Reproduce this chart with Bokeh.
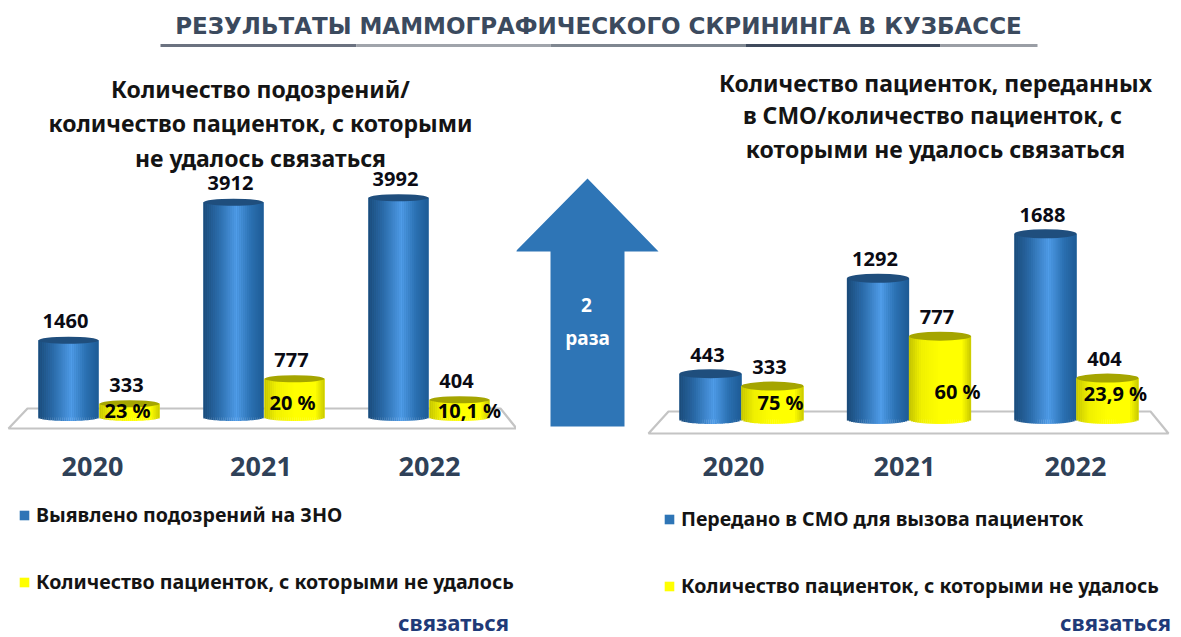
from math import sqrt
from bokeh.plotting import figure
from bokeh.layouts import column, row
from bokeh.models import Range1d, LinearAxis, FixedTicker, Legend, LegendItem, ColumnDataSource, NumeralTickFormatter
from bokeh.core.properties import value
from bokeh.embed import file_html
from bokeh.resources import INLINE

main_title = "РЕЗУЛЬТАТЫ  МАММОГРАФИЧЕСКОГО  СКРИНИНГА  В КУЗБАССЕ"
years = [2020, 2021, 2022]

left_title = ["Количество подозрений/", "количество пациенток, с которыми", "не удалось связаться"]
left_blue = [1460, 3912, 3992]
left_yellow = [333, 777, 404]
left_pct = ["23 %", "20 %", "10,1 %"]
left_legend = ["Выявлено подозрений на ЗНО", "Количество пациенток, с которыми не удалось"]

right_title = ["Количество пациенток, переданных", "в СМО/количество  пациенток, с", "которыми не удалось связаться"]
right_blue = [443, 1292, 1688]
right_yellow = [333, 777, 404]
right_pct = ["75 %", "60 %", "23,9 %"]
right_legend = ["Передано в СМО для вызова пациенток", "Количество пациенток, с которыми не удалось"]
legend_tail = "связаться"
arrow_text = ["2", "раза"]

FONT = value("Noto Sans")
BLUE_STOPS = [(0, "#1a4a78"), (.25, "#2a6aa8"), (.55, "#4f9ce8"), (.8, "#2a6fb0"), (1, "#1d5a94")]
YEL_STOPS = [(0, "#c4c400"), (.2, "#f0f000"), (.5, "#ffff00"), (.85, "#ffff00"), (1, "#c8c800")]
BOT = 637


def mix(stops, t):
    for (a, ca), (b, cb) in zip(stops, stops[1:]):
        if t <= b:
            f = (t - a) / (b - a)
            rgb = [round(int(ca[i:i + 2], 16) * (1 - f) + int(cb[i:i + 2], 16) * f) for i in (1, 3, 5)]
            return "#%02x%02x%02x" % tuple(rgb)
    return stops[-1][1]


def cylinders(p, xs, vals, barw, scale, floor, stops, solid, cap, ell, n=30):
    """Shaded cylinders; barw in x-data units, scale = pixels per value unit."""
    base = p.vbar(x=xs, top=vals, bottom=floor, width=barw, fill_color=solid, line_color=None)
    d = dict(x=[], top=[], bottom=[], c=[])
    for x, v in zip(xs, vals):
        for i in range(n):
            t = (i + .5) / n
            u = 2 * t - 1
            d["x"].append(x - barw / 2 + t * barw)
            d["top"].append(v)
            d["bottom"].append(floor - ell / 2 * sqrt(1 - u * u) / scale)
            d["c"].append(mix(stops, t))
    p.vbar(x="x", top="top", bottom="bottom", width=barw / n * 1.15, fill_color="c", line_color=None,
           source=ColumnDataSource(d))
    p.ellipse(x=xs, y=vals, width=[barw] * len(xs), height=[ell] * len(xs), height_units="screen",
              fill_color=cap, line_color=None)
    return base


def panel(xpx, year_x0, spacing, ax_x0, ax_spacing, zero_px, scale, floor, dodge_px, bar_px, ell,
          blue, yellow, pct, pct_xy, legend_labels, legend_loc, title, title_ys, title_cx,
          plat, tail_xy):
    W = xpx[1] - xpx[0]
    top_px, bot_px = 52, BOT
    p = figure(width=W, height=bot_px - top_px, output_backend="svg", toolbar_location=None,
               x_axis_location=None, y_axis_location=None, min_border=0,
               x_range=Range1d(2020 - (year_x0 - xpx[0]) / spacing, 2020 + (xpx[1] - year_x0) / spacing),
               y_range=Range1d((zero_px - bot_px) / scale, (zero_px - top_px) / scale))
    p.grid.visible = False
    p.outline_line_color = None
    p.background_fill_color = None
    p.border_fill_color = None
    p.extra_x_ranges["px"] = Range1d(*xpx)
    p.extra_y_ranges["py"] = Range1d(bot_px, top_px)
    p.extra_x_ranges["ax"] = Range1d(2020 - (ax_x0 - xpx[0]) / ax_spacing, 2020 + (xpx[1] - ax_x0) / ax_spacing)

    p.patch(x=plat[0], y=plat[1], x_range_name="px", y_range_name="py", fill_color="white",
            line_color="#c4c4c4", line_width=2.2)

    d = dodge_px / spacing
    bw = bar_px / spacing
    bx = [y - d for y in years]
    yx = [y + d for y in years]
    r1 = cylinders(p, bx, blue, bw, scale, floor, BLUE_STOPS, "#2e75b6", "#1f4e7d", ell)
    r2 = cylinders(p, yx, yellow, bw, scale, floor, YEL_STOPS, "#ffff00", "#a5a500", ell)

    for xs, vals in ((bx, blue), (yx, yellow)):
        p.text(x=xs, y=vals, text=[str(v) for v in vals], text_font=FONT, text_font_style="bold",
               text_font_size="20px", text_align="center", text_baseline="middle", text_color="#0b0b14",
               x_offset=-3, y_offset=-19)
    p.text(x=pct_xy[0], y=pct_xy[1], text=pct, x_range_name="px", y_range_name="py", text_font=FONT,
           text_font_style="bold", text_font_size="20px", text_align="center", text_baseline="middle",
           text_color="#050505")
    p.text(x=[title_cx] * 3, y=title_ys, text=title, x_range_name="px", y_range_name="py", text_font=FONT,
           text_font_style="bold", text_font_size="23px", text_align="center", text_baseline="middle",
           text_color="#141414")
    p.text(x=[tail_xy[0]], y=[tail_xy[1]], text=[legend_tail], x_range_name="px", y_range_name="py",
           text_font=FONT, text_font_style="bold", text_font_size="22px", text_align="center",
           text_baseline="middle", text_color="#1f3a78")

    axis = LinearAxis(x_range_name="ax", ticker=FixedTicker(ticks=years),
                      formatter=NumeralTickFormatter(format="0"),
                      axis_line_color=None, major_tick_line_color=None, minor_tick_line_color=None,
                      major_label_text_font="Noto Sans", major_label_text_font_size="27px",
                      major_label_text_font_style="bold", major_label_text_color="#2f4158",
                      major_label_standoff=0)
    axis.fixed_location = (zero_px - 450) / scale
    p.add_layout(axis, "below")

    leg = Legend(items=[LegendItem(label=legend_labels[0], renderers=[r1]),
                        LegendItem(label=legend_labels[1], renderers=[r2])],
                 location=legend_loc, background_fill_alpha=0, border_line_color=None,
                 padding=0, margin=0, spacing=40, glyph_width=12, glyph_height=12, label_standoff=6,
                 label_text_font="Noto Sans", label_text_font_style="bold", label_text_font_size="19.6px",
                 label_text_color="#141414", label_height=20, orientation="vertical")
    p.add_layout(leg, "center")
    return p


# title strip
t = figure(width=1181, height=52, output_backend="svg", toolbar_location=None, x_axis_location=None,
           y_axis_location=None, min_border=0, x_range=Range1d(0, 1181), y_range=Range1d(52, 0))
t.grid.visible = False
t.outline_line_color = None
t.text(x=[610], y=[25], text=[main_title], text_font=value("DejaVu Sans"), text_font_style="bold",
       text_font_size="23px", text_align="center", text_baseline="middle", text_color="#3b4a5e")
rule_x = [160, 356, 550, 745, 940, 1037]
rule_c = ["#6b7280", "#a0a4ab", "#7f8790", "#3f4a5c", "#9a9ea5"]
t.segment(x0=rule_x[:-1], x1=rule_x[1:], y0=[45] * 5, y1=[45] * 5, line_color=rule_c, line_width=3)

left = panel((0, 516), 98.5, 165, 92, 168.5, 422, 0.0563, 89, 30.5, 60, 7,
             left_blue, left_yellow, left_pct, ([127, 292, 469], [410, 402, 410]),
             left_legend, (18, 42), left_title, [88, 122, 157], 260,
             ([27, 500, 516, 8], [408, 408, 428, 428]), (453, 621))

right = panel((516, 1181), 741, 167.5, 733, 171, 423, 0.1124, 36, 31, 62, 9,
              right_blue, right_yellow, right_pct, ([780, 957, 1115], [402, 391, 393]),
              right_legend, (147, 38), right_title, [82, 114, 148], 935,
              ([668, 1150, 1168, 648], [411, 411, 433, 433]), (1115, 621))

# arrow between the charts, drawn in the right panel's pixel range
ax_x = [587, 658, 624, 624, 550, 550, 515]
ax_y = [178, 251, 251, 426, 426, 251, 251]
right.patch(x=ax_x, y=ax_y, x_range_name="px", y_range_name="py", fill_color="#2e75b6", line_color=None,
            level="underlay")
right.text(x=[586, 587], y=[304, 337], text=arrow_text, x_range_name="px", y_range_name="py", text_font=FONT,
           text_font_style="bold", text_font_size="19px", text_align="center", text_baseline="middle",
           text_color="white")

page = column(t, row(left, right))
open("out.html", "w").write(file_html(page, INLINE))
